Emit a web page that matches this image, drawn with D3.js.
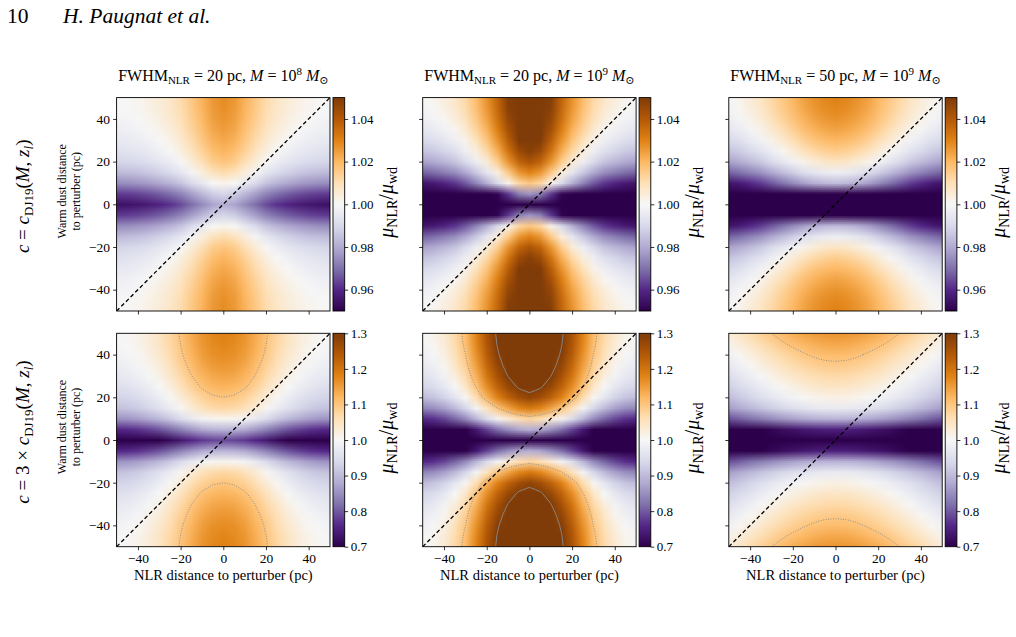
<!DOCTYPE html>
<html>
<head>
<meta charset="utf-8">
<script src="https://cdn.jsdelivr.net/npm/d3@7"></script>
<style>
body { margin: 0; background: #fff; }
text { font-family: "Liberation Serif", "DejaVu Serif", serif; fill: #000; }
</style>
</head>
<body>
<div id="chart"></div>
<script>
// distance to perturber (pc) where the magnification profiles are read
const dist = [0, 5, 10, 15, 20, 25, 30, 35, 40, 45, 50];

// mu_NLR (by NLR distance) and mu_wd (by warm dust distance), one pair per panel
const nlrP1 = [1.028, 1.026, 1.021, 1.016, 1.011, 1.0075, 1.005, 1.003, 1.0015, 1.0005, 1.0];
const wdP1  = [1.048, 1.039, 1.026, 1.017, 1.011, 1.0075, 1.005, 1.003, 1.0015, 1.0005, 1.0];
const nlrP2 = [1.064, 1.060, 1.049, 1.037, 1.027, 1.019, 1.012, 1.007, 1.004, 1.0015, 1.0];
const wdP2  = [1.20, 1.09, 1.047, 1.033, 1.022, 1.015, 1.010, 1.006, 1.003, 1.001, 1.0];
const nlrP3 = [1.030, 1.029, 1.027, 1.024, 1.020, 1.016, 1.012, 1.008, 1.005, 1.002, 1.0];
const wdP3  = [1.22, 1.09, 1.047, 1.033, 1.022, 1.015, 1.010, 1.006, 1.003, 1.001, 1.0];
const nlrP4 = [1.18, 1.175, 1.16, 1.135, 1.105, 1.075, 1.05, 1.03, 1.015, 1.005, 1.0];
const wdP4  = [1.50, 1.32, 1.17, 1.10, 1.073, 1.05, 1.033, 1.02, 1.01, 1.004, 1.0];
const nlrP5 = [1.42, 1.40, 1.36, 1.31, 1.25, 1.18, 1.115, 1.07, 1.035, 1.012, 1.0];
const wdP5  = [2.1, 1.6, 1.32, 1.19, 1.11, 1.07, 1.045, 1.027, 1.014, 1.005, 1.0];
const nlrP6 = [1.16, 1.158, 1.152, 1.142, 1.13, 1.116, 1.10, 1.083, 1.065, 1.047, 1.03];
const wdP6  = [2.0, 1.55, 1.30, 1.19, 1.14, 1.11, 1.085, 1.062, 1.042, 1.02, 1.0];

const fwhmNlr = [20, 20, 50];
const massExp = [8, 9, 9];
const axisTicks = [-40, -20, 0, 20, 40];
const cbarTicksRow1 = [0.96, 0.98, 1.00, 1.02, 1.04];
const cbarTicksRow2 = [0.7, 0.8, 0.9, 1.0, 1.1, 1.2, 1.3];
const cbarRangeRow1 = [0.95, 1.05];
const cbarRangeRow2 = [0.7, 1.3];
const contourLevels = [1.1, 1.3];

// matplotlib PuOr_r
const puor = ["#2d004b", "#542788", "#8073ac", "#b2abd2", "#d8daeb", "#f7f7f7",
              "#fee0b6", "#fdb863", "#e08214", "#b35806", "#7f3b08"];
const interp = d3.piecewise(d3.interpolateRgb, puor);

const panels = [
    {nlr: nlrP1, wd: wdP1}, {nlr: nlrP2, wd: wdP2}, {nlr: nlrP3, wd: wdP3},
    {nlr: nlrP4, wd: wdP4}, {nlr: nlrP5, wd: wdP5}, {nlr: nlrP6, wd: wdP6}
];

const colLeft = [116.6, 422.7, 728.8], rowTop = [97.6, 333.3], size = 213.4;
const cbarGap = 3, cbarW = 11.7;

const svg = d3.select("#chart").append("svg")
    .attr("width", 1016).attr("height", 637);
const defs = svg.append("defs");

// page header
svg.append("text").attr("x", 7).attr("y", 23).style("font-size", "21.5px").text("10");
svg.append("text").attr("x", 63).attr("y", 23).style("font-size", "21.5px")
    .style("font-style", "italic").text("H. Paugnat et al.");

// colorbar gradient
const grad = defs.append("linearGradient").attr("id", "puor")
    .attr("x1", 0).attr("y1", 1).attr("x2", 0).attr("y2", 0);
puor.forEach((c, i) => grad.append("stop")
    .attr("offset", i / (puor.length - 1)).attr("stop-color", c));

const full = d3.range(-50, 51, 5);
const n = full.length;

panels.forEach((p, k) => {
    const r = Math.floor(k / 3), c = k % 3;
    const left = colLeft[c], top = rowTop[r];
    const x = d3.scaleLinear().domain([-50, 50]).range([left, left + size]);
    const y = d3.scaleLinear().domain([-50, 50]).range([top + size, top]);
    const range = r === 0 ? cbarRangeRow1 : cbarRangeRow2;
    const color = d3.scaleLinear().domain(range).range([0, 1]).clamp(true);

    // value grid, top row = +50 pc
    const values = [];
    full.slice().reverse().forEach(yy => {
        full.forEach(xx => {
            const ix = dist.indexOf(Math.abs(xx)), iy = dist.indexOf(Math.abs(yy));
            values.push(p.nlr[ix] / p.wd[iy]);
        });
    });

    const cv = document.createElement("canvas");
    cv.width = n; cv.height = n;
    const ctx = cv.getContext("2d");
    const img = ctx.createImageData(n, n);
    values.forEach((v, i) => {
        const col = d3.rgb(interp(color(v)));
        img.data[4 * i] = col.r;
        img.data[4 * i + 1] = col.g;
        img.data[4 * i + 2] = col.b;
        img.data[4 * i + 3] = 255;
    });
    ctx.putImageData(img, 0, 0);

    // grid index -> pixel scales (each cell is 5 pc wide, centred on its sample)
    const gx = d3.scaleLinear().domain([0, n]).range([x(-52.5), x(52.5)]);
    const gy = d3.scaleLinear().domain([0, n]).range([y(52.5), y(-52.5)]);

    const clipId = "clip" + k;
    defs.append("clipPath").attr("id", clipId).append("rect")
        .attr("x", left).attr("y", top).attr("width", size).attr("height", size);

    const g = svg.append("g").attr("clip-path", `url(#${clipId})`);
    g.append("image")
        .attr("href", cv.toDataURL())
        .attr("x", gx(0)).attr("y", gy(0))
        .attr("width", gx(n) - gx(0)).attr("height", gy(n) - gy(0))
        .attr("preserveAspectRatio", "none");

    // contours at 1.1 (dotted) and 1.3 (solid)
    const contours = d3.contours().size([n, n]).thresholds(contourLevels)(values);
    const path = d3.geoPath(d3.geoTransform({
        point(px, py) { this.stream.point(gx(px), gy(py)); }
    }));
    g.selectAll("path.contour")
        .data(contours)
        .enter()
        .append("path")
        .attr("class", "contour")
        .attr("d", path)
        .attr("fill", "none")
        .attr("stroke", "#8a8a8a")
        .attr("stroke-width", 0.9)
        .attr("stroke-dasharray", d => d.value === 1.1 ? "1,1.5" : null);

    // dashed diagonal
    g.append("line")
        .attr("x1", x(-50)).attr("y1", y(-50))
        .attr("x2", x(50)).attr("y2", y(50))
        .attr("stroke", "#000").attr("stroke-width", 1.3)
        .attr("stroke-dasharray", "4,2.6");

    // frame
    svg.append("rect").attr("x", left).attr("y", top)
        .attr("width", size).attr("height", size)
        .attr("fill", "none").attr("stroke", "#000").attr("stroke-width", 0.9);

    // axes
    const xAxis = d3.axisBottom(x).tickValues(axisTicks).tickSize(3.5).tickPadding(3);
    if (r === 0) xAxis.tickFormat("");
    const gxAxis = svg.append("g")
        .attr("transform", `translate(0,${top + size})`)
        .call(xAxis);
    const yAxis = d3.axisLeft(y).tickValues(axisTicks).tickSize(3.5).tickPadding(3);
    if (c !== 0) yAxis.tickFormat("");
    const gyAxis = svg.append("g")
        .attr("transform", `translate(${left},0)`)
        .call(yAxis);
    [gxAxis, gyAxis].forEach(a => {
        a.select(".domain").remove();
        a.selectAll("line").attr("stroke", "#000").attr("stroke-width", 0.8);
        a.selectAll("text").style("font-size", "13.5px")
            .style("font-family", "'Liberation Serif', serif").attr("fill", "#000");
    });

    // colorbar
    const cbx = left + size + cbarGap;
    const cy = d3.scaleLinear().domain(range).range([top + size, top]);
    svg.append("rect").attr("x", cbx).attr("y", cy(range[1]))
        .attr("width", cbarW).attr("height", cy(range[0]) - cy(range[1]))
        .attr("fill", "url(#puor)").attr("stroke", "#000").attr("stroke-width", 0.9);
    const cAxis = d3.axisRight(cy)
        .tickValues(r === 0 ? cbarTicksRow1 : cbarTicksRow2)
        .tickFormat(d3.format(r === 0 ? ".2f" : ".1f"))
        .tickSize(3.5).tickPadding(2.5);
    const gc = svg.append("g").attr("transform", `translate(${cbx + cbarW},0)`).call(cAxis);
    gc.select(".domain").remove();
    gc.selectAll("line").attr("stroke", "#000").attr("stroke-width", 0.8);
    gc.selectAll("text").style("font-size", "13px")
        .style("font-family", "'Liberation Serif', serif").attr("fill", "#000");

    // colorbar label
    const lab = svg.append("text")
        .attr("transform", `translate(${cbx + cbarW + 42},${top + size / 2 - 2}) rotate(-90)`)
        .attr("text-anchor", "middle")
        .attr("dy", "0.3em")
        .style("font-size", "20px");
    lab.append("tspan").style("font-style", "italic").text("μ");
    lab.append("tspan").attr("dy", 4).style("font-size", "14px").text("NLR");
    lab.append("tspan").attr("dy", -4).text("/");
    lab.append("tspan").style("font-style", "italic").text("μ");
    lab.append("tspan").attr("dy", 4).style("font-size", "14px").text("wd");

    // column titles
    if (r === 0) {
        const t = svg.append("text")
            .attr("x", left + size / 2).attr("y", 80.5)
            .attr("text-anchor", "middle")
            .style("font-size", "16px");
        t.append("tspan").text("FWHM");
        t.append("tspan").attr("dy", 3.5).style("font-size", "11px").text("NLR");
        t.append("tspan").attr("dy", -3.5).text(` = ${fwhmNlr[c]} pc, `);
        t.append("tspan").style("font-style", "italic").text("M");
        t.append("tspan").text(" = 10");
        t.append("tspan").attr("dy", -6).style("font-size", "11px").text(massExp[c]);
        t.append("tspan").attr("dy", 6).style("font-style", "italic").text(" M");
        t.append("tspan").attr("dy", 3.5).style("font-size", "11px").text("⊙");
    }

    // x label
    if (r === 1) {
        svg.append("text")
            .attr("x", left + size / 2).attr("y", 580)
            .attr("text-anchor", "middle")
            .style("font-size", "14.5px")
            .text("NLR distance to perturber (pc)");
    }

    // y label and row label
    if (c === 0) {
        const yc = top + size / 2 - 13;
        const yl = svg.append("text")
            .attr("transform", `translate(66,${yc}) rotate(-90)`)
            .attr("text-anchor", "middle")
            .style("font-size", "12px");
        yl.append("tspan").attr("x", 0).attr("y", 0).text("Warm dust distance");
        yl.append("tspan").attr("x", 0).attr("y", 14).text("to perturber (pc)");

        const rl = svg.append("text")
            .attr("transform", `translate(29,${top + size / 2 - 8}) rotate(-90)`)
            .attr("text-anchor", "middle")
            .style("font-size", "19px");
        rl.append("tspan").style("font-style", "italic").text("c");
        rl.append("tspan").text(r === 0 ? " = " : " = 3 × ");
        rl.append("tspan").style("font-style", "italic").text("c");
        rl.append("tspan").attr("dy", 4).style("font-size", "13px").text("DJ19");
        rl.append("tspan").attr("dy", -4).text("(");
        rl.append("tspan").style("font-style", "italic").text("M");
        rl.append("tspan").text(", ");
        rl.append("tspan").style("font-style", "italic").text("z");
        rl.append("tspan").attr("dy", 4).style("font-size", "13px").style("font-style", "italic").text("l");
        rl.append("tspan").attr("dy", -4).text(")");
    }
});
</script>
</body>
</html>
